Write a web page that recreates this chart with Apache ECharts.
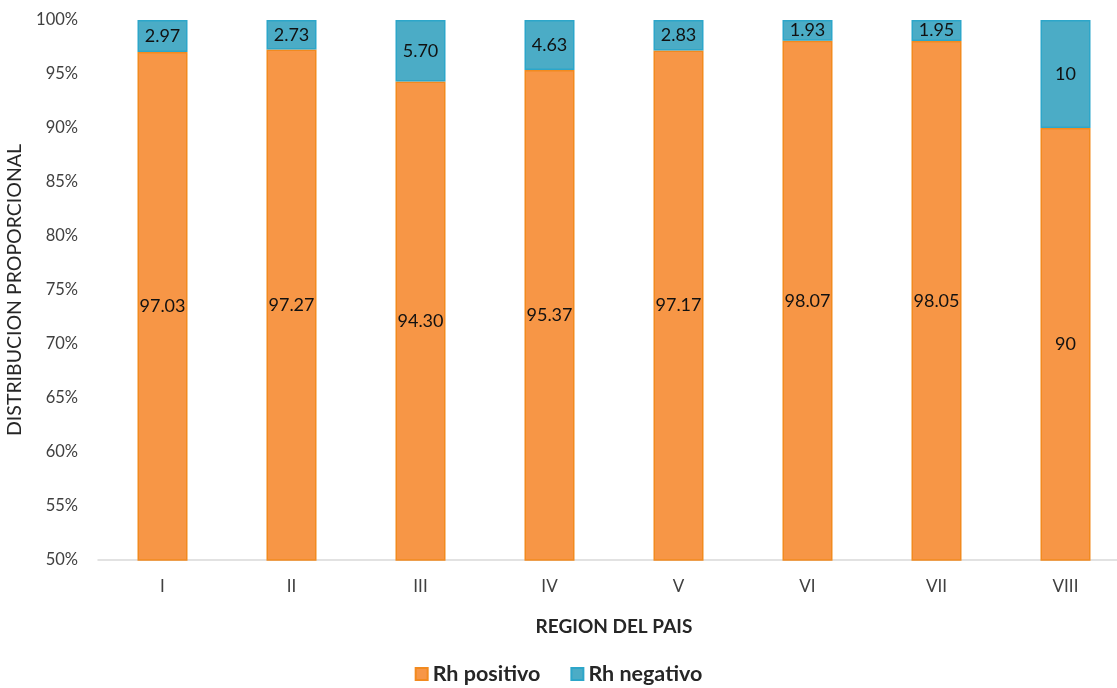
<!DOCTYPE html>
<html>
<head>
<meta charset="utf-8">
<script src="https://cdn.jsdelivr.net/npm/echarts@6/dist/echarts.min.js"></script>
<style>html,body{margin:0;padding:0;background:#fff;}#c{width:1117px;height:688px;}</style>
</head>
<body>
<div id="c"></div>
<script>
const categories = ['I','II','III','IV','V','VI','VII','VIII'];
const rhPositivo = [97.03, 97.27, 94.30, 95.37, 97.17, 98.07, 98.05, 90];
const rhNegativo = [2.97, 2.73, 5.70, 4.63, 2.83, 1.93, 1.95, 10];
const positivoLabels = ['97.03','97.27','94.30','95.37','97.17','98.07','98.05','90'];
const negativoLabels = ['2.97','2.73','5.70','4.63','2.83','1.93','1.95','10'];
const yTicks = [50,55,60,65,70,75,80,85,90,95,100];

const FONT = 'Lato, "Open Sans", sans-serif';
const chart = echarts.init(document.getElementById('c'));
chart.setOption({
  animation: false,
  textStyle: {fontFamily: FONT},
  grid: {left: 98, width: 1032, top: 20, bottom: 128, containLabel: false, outerBoundsMode: 'none'},
  legend: {
    top: 663, left: 'center', padding: 0,
    itemWidth: 12, itemHeight: 12, itemGap: 30, icon: 'rect',
    textStyle: {fontSize: 21.5, fontWeight: 'bold', color: '#262626', fontFamily: FONT},
    data: ['Rh positivo','Rh negativo']
  },
  xAxis: {
    type: 'category', data: categories,
    name: 'REGION DEL PAIS', nameLocation: 'middle', nameGap: 57,
    nameTextStyle: {fontSize: 19, fontWeight: 'bold', color: '#262626'},
    axisLine: {lineStyle: {color: '#d9d9d9', width: 1.5}},
    axisTick: {show: false},
    axisLabel: {color: '#404040', fontSize: 17, margin: 18}
  },
  yAxis: {
    type: 'value', min: 50, max: 100, interval: 5,
    name: 'DISTRIBUCION PROPORCIONAL', nameLocation: 'middle', nameGap: 70, nameRotate: 90,
    nameTextStyle: {fontSize: 19.5, color: '#262626'},
    splitLine: {show: false},
    axisLine: {show: false}, axisTick: {show: false},
    axisLabel: {color: '#404040', fontSize: 16.5, margin: 20,
      formatter: v => yTicks.includes(v) ? v + '%' : ''}
  },
  series: [
    {
      name: 'Rh positivo', type: 'bar', stack: 's', barWidth: 50,
      data: rhPositivo,
      itemStyle: {color: '#F79646', borderColor: '#F28A1F', borderWidth: 1.5},
      label: {show: true, position: 'inside', color: '#111', fontSize: 18,
        formatter: p => positivoLabels[p.dataIndex]}
    },
    {
      name: 'Rh negativo', type: 'bar', stack: 's', barWidth: 50,
      data: rhNegativo,
      itemStyle: {color: '#4BACC6', borderColor: '#2DA6C9', borderWidth: 1.5},
      label: {show: true, position: 'inside', color: '#111', fontSize: 18,
        formatter: p => negativoLabels[p.dataIndex]}
    }
  ]
});
</script>
</body>
</html>
